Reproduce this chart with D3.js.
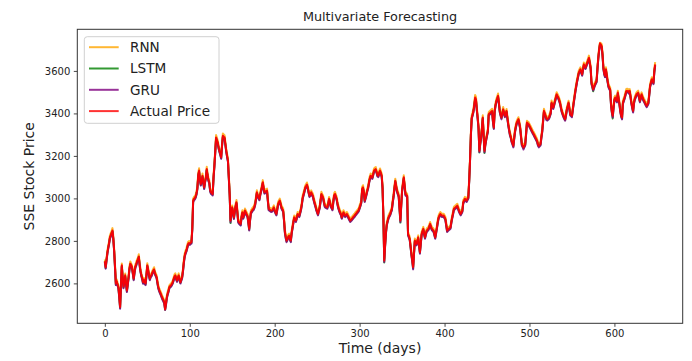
<!DOCTYPE html>
<html>
<head>
<meta charset="utf-8">
<script src="https://cdn.jsdelivr.net/npm/d3@7"></script>
<style>
  html, body { margin: 0; padding: 0; background: #fff; }
  text { font-family: "DejaVu Sans", sans-serif; fill: #222; }
</style>
</head>
<body>
<div id="chart"></div>
<script>
// SSE closing price and model predictions, one value per day (0..648)
var actualPrice = [
  2705, 2677, 2712, 2745, 2768, 2790, 2817, 2826, 2838, 2849,
  2812, 2755, 2680, 2600, 2610, 2596, 2583, 2540, 2489, 2590,
  2685, 2630, 2585, 2612, 2638, 2600, 2567, 2598, 2630, 2670,
  2693, 2686, 2677, 2650, 2623, 2655, 2680, 2690, 2705, 2712,
  2727, 2690, 2660, 2640, 2625, 2606, 2618, 2604, 2600, 2640,
  2685, 2665, 2640, 2623, 2635, 2640, 2652, 2660, 2666, 2648,
  2640, 2630, 2605, 2583, 2570, 2560, 2551, 2540, 2530, 2522,
  2512, 2478, 2505, 2535, 2553, 2566, 2583, 2588, 2591, 2598,
  2606, 2620, 2632, 2638, 2625, 2614, 2628, 2638, 2620, 2606,
  2618, 2630, 2660, 2700, 2730, 2745, 2755, 2770, 2786, 2790,
  2788, 2792, 2794, 2860, 2990, 2998, 3002, 3010, 3025, 3050,
  3110, 3131, 3090, 3068, 3085, 3107, 3075, 3052, 3080, 3099,
  3138, 3110, 3088, 3076, 3040, 3029, 3025, 3021, 3100, 3154,
  3220, 3287, 3275, 3263, 3240, 3224, 3210, 3193, 3250, 3295,
  3290, 3287, 3255, 3224, 3200, 3178, 3100, 3021, 2896, 2930,
  2958, 2935, 2911, 2940, 2965, 2982, 2940, 2896, 2888, 2884,
  2880, 2915, 2935, 2911, 2925, 2943, 2935, 2925, 2919, 2890,
  2857, 2900, 2935, 2940, 2948, 2951, 2960, 2974, 3000, 3029,
  3015, 3005, 2998, 3020, 3037, 3055, 3076, 3050, 3029, 3032,
  3035, 3037, 2990, 2951, 2948, 2945, 2943, 2944, 2950, 2958,
  2945, 2935, 2927, 2950, 2974, 2982, 2990, 2975, 2958, 2950,
  2943, 2900, 2845, 2820, 2802, 2810, 2820, 2825, 2812, 2802,
  2840, 2864, 2890, 2911, 2905, 2896, 2910, 2927, 2923, 2919,
  2935, 2951, 2975, 3005, 3020, 3035, 3052, 3058, 3065, 3050,
  3030, 3013, 3020, 3029, 3020, 3013, 2995, 2980, 2966, 2950,
  2938, 2927, 2945, 2960, 2990, 3021, 3012, 3005, 2985, 2966,
  2962, 2960, 2958, 2975, 2998, 2985, 2966, 2960, 2951, 2985,
  3015, 3021, 3010, 2998, 2975, 2958, 2945, 2935, 2927, 2911,
  2922, 2935, 2927, 2919, 2923, 2927, 2920, 2911, 2903, 2896,
  2900, 2904, 2910, 2915, 2919, 2925, 2930, 2935, 2940, 2946,
  2958, 2970, 2985, 3045, 3052, 3030, 2990, 3005, 3021, 3038,
  3052, 3075, 3095, 3107, 3102, 3099, 3115, 3131, 3135, 3138,
  3125, 3110, 3107, 3120, 3131, 3120, 3107, 3052, 2911, 2708,
  2780, 2840, 2880, 2895, 2911, 2920, 2927, 2940, 2951, 2985,
  3013, 3050, 3083, 3060, 3037, 3025, 3013, 2955, 2896, 2970,
  3037, 3070, 3099, 3060, 3021, 3017, 3013, 2833, 2822, 2810,
  2775, 2739, 2710, 2677, 2740, 2802, 2795, 2786, 2800, 2817,
  2780, 2747, 2790, 2833, 2845, 2857, 2835, 2817, 2835, 2849,
  2853, 2857, 2868, 2880, 2868, 2857, 2853, 2849, 2833, 2817,
  2840, 2864, 2890, 2911, 2920, 2927, 2923, 2919, 2919, 2919,
  2912, 2904, 2877, 2849, 2853, 2857, 2860, 2864, 2890, 2911,
  2930, 2951, 2955, 2958, 2962, 2966, 2955, 2943, 2935, 2927,
  2935, 2943, 2982, 2990, 2998, 2994, 2990, 2998, 3005, 3083,
  3180, 3300, 3381, 3395, 3412, 3440, 3475, 3467, 3420, 3380,
  3334, 3224, 3260, 3287, 3330, 3381, 3300, 3224, 3255, 3279,
  3300, 3318, 3397, 3400, 3404, 3408, 3412, 3365, 3334, 3412,
  3440, 3459, 3470, 3483, 3450, 3412, 3395, 3381, 3400, 3420,
  3405, 3389, 3400, 3412, 3380, 3350, 3325, 3303, 3290, 3271,
  3260, 3248, 3285, 3318, 3340, 3357, 3365, 3373, 3355, 3334,
  3295, 3256, 3248, 3240, 3248, 3256, 3305, 3357, 3353, 3350,
  3342, 3334, 3326, 3318, 3310, 3303, 3295, 3287, 3279, 3271,
  3255, 3248, 3252, 3256, 3290, 3318, 3365, 3412, 3400, 3389,
  3375, 3373, 3377, 3381, 3392, 3404, 3451, 3440, 3428, 3443,
  3459, 3475, 3490, 3482, 3475, 3463, 3451, 3430, 3412, 3400,
  3389, 3380, 3373, 3395, 3420, 3435, 3451, 3425, 3397, 3393,
  3389, 3420, 3451, 3478, 3506, 3530, 3553, 3572, 3592, 3600,
  3608, 3596, 3584, 3608, 3631, 3623, 3616, 3628, 3639, 3650,
  3662, 3640, 3616, 3545, 3530, 3514, 3525, 3537, 3545, 3553,
  3610, 3662, 3700, 3730, 3724, 3717, 3678, 3616, 3590, 3577,
  3608, 3580, 3553, 3530, 3520, 3514, 3444, 3410, 3389, 3430,
  3467, 3475, 3466, 3459, 3498, 3470, 3444, 3412, 3390, 3381,
  3451, 3463, 3475, 3490, 3506, 3506, 3506, 3500, 3506, 3480,
  3451, 3430, 3412, 3451, 3470, 3480, 3490, 3494, 3498, 3478,
  3459, 3475, 3490, 3478, 3467, 3460, 3451, 3443, 3436, 3443,
  3451, 3490, 3530, 3545, 3561, 3553, 3545, 3600, 3631
];

var rnnPred = [
  2713, 2686, 2719, 2754, 2777, 2797, 2826, 2836, 2847, 2860,
  2822, 2763, 2688, 2609, 2619, 2603, 2592, 2549, 2497, 2599,
  2694, 2638, 2593, 2620, 2647, 2608, 2575, 2606, 2639, 2679,
  2703, 2694, 2685, 2658, 2631, 2663, 2689, 2699, 2714, 2721,
  2737, 2699, 2668, 2648, 2633, 2614, 2626, 2612, 2608, 2649,
  2695, 2673, 2648, 2631, 2643, 2648, 2660, 2668, 2676, 2656,
  2648, 2638, 2613, 2591, 2578, 2568, 2559, 2548, 2538, 2530,
  2520, 2487, 2513, 2543, 2561, 2574, 2591, 2596, 2599, 2606,
  2614, 2628, 2641, 2647, 2633, 2622, 2636, 2647, 2628, 2614,
  2626, 2638, 2668, 2709, 2739, 2754, 2764, 2779, 2795, 2799,
  2797, 2801, 2803, 2868, 2999, 3007, 3011, 3019, 3034, 3059,
  3120, 3142, 3099, 3077, 3094, 3117, 3084, 3061, 3089, 3109,
  3149, 3119, 3097, 3085, 3049, 3038, 3034, 3030, 3109, 3164,
  3229, 3298, 3285, 3272, 3249, 3233, 3219, 3202, 3259, 3306,
  3300, 3297, 3264, 3233, 3209, 3187, 3109, 3030, 2905, 2939,
  2967, 2944, 2920, 2949, 2974, 2992, 2949, 2905, 2897, 2892,
  2888, 2924, 2944, 2920, 2934, 2952, 2944, 2934, 2928, 2899,
  2865, 2909, 2944, 2949, 2957, 2960, 2969, 2983, 3009, 3038,
  3024, 3014, 3007, 3029, 3046, 3064, 3086, 3059, 3038, 3041,
  3044, 3046, 2999, 2960, 2957, 2954, 2952, 2953, 2959, 2967,
  2954, 2944, 2936, 2959, 2983, 2991, 2999, 2984, 2967, 2959,
  2952, 2909, 2854, 2829, 2811, 2819, 2829, 2834, 2821, 2811,
  2849, 2873, 2899, 2920, 2914, 2905, 2919, 2936, 2932, 2928,
  2944, 2960, 2984, 3014, 3029, 3044, 3061, 3067, 3075, 3059,
  3039, 3022, 3029, 3038, 3029, 3022, 3004, 2989, 2975, 2959,
  2947, 2936, 2954, 2969, 2999, 3031, 3021, 3014, 2994, 2975,
  2971, 2969, 2967, 2984, 3007, 2994, 2975, 2969, 2960, 2994,
  3024, 3031, 3019, 3007, 2984, 2967, 2954, 2944, 2936, 2920,
  2931, 2944, 2936, 2928, 2932, 2936, 2929, 2920, 2912, 2905,
  2909, 2913, 2919, 2924, 2928, 2934, 2939, 2944, 2949, 2955,
  2967, 2979, 2994, 3054, 3062, 3039, 2999, 3014, 3030, 3047,
  3061, 3084, 3104, 3117, 3111, 3108, 3124, 3141, 3145, 3148,
  3134, 3119, 3116, 3129, 3141, 3129, 3116, 3061, 2920, 2717,
  2789, 2849, 2889, 2904, 2920, 2929, 2936, 2949, 2960, 2994,
  3022, 3059, 3093, 3069, 3046, 3034, 3022, 2964, 2905, 2979,
  3046, 3079, 3109, 3069, 3030, 3026, 3022, 2842, 2831, 2819,
  2784, 2748, 2719, 2686, 2749, 2811, 2804, 2795, 2809, 2826,
  2789, 2756, 2799, 2842, 2854, 2866, 2844, 2826, 2844, 2858,
  2862, 2866, 2877, 2889, 2877, 2866, 2862, 2858, 2842, 2826,
  2849, 2873, 2899, 2920, 2929, 2936, 2932, 2928, 2928, 2928,
  2921, 2913, 2886, 2858, 2862, 2866, 2869, 2873, 2899, 2920,
  2939, 2960, 2964, 2967, 2971, 2975, 2964, 2952, 2944, 2936,
  2944, 2952, 2991, 2999, 3007, 3003, 2999, 3007, 3014, 3092,
  3189, 3309, 3390, 3405, 3422, 3450, 3487, 3478, 3430, 3389,
  3343, 3233, 3269, 3296, 3339, 3391, 3309, 3233, 3264, 3288,
  3309, 3327, 3406, 3410, 3414, 3418, 3422, 3374, 3343, 3421,
  3449, 3468, 3480, 3494, 3459, 3421, 3404, 3390, 3409, 3430,
  3414, 3398, 3409, 3421, 3389, 3359, 3334, 3312, 3299, 3280,
  3269, 3257, 3294, 3327, 3349, 3366, 3374, 3382, 3364, 3343,
  3304, 3265, 3257, 3249, 3257, 3265, 3314, 3366, 3362, 3359,
  3351, 3343, 3335, 3327, 3319, 3312, 3304, 3296, 3288, 3280,
  3264, 3257, 3261, 3265, 3299, 3327, 3374, 3422, 3409, 3398,
  3384, 3382, 3386, 3390, 3401, 3413, 3461, 3449, 3437, 3452,
  3468, 3484, 3500, 3491, 3484, 3472, 3460, 3439, 3421, 3409,
  3398, 3389, 3382, 3404, 3429, 3444, 3460, 3434, 3406, 3402,
  3398, 3429, 3460, 3487, 3515, 3539, 3562, 3581, 3601, 3609,
  3617, 3605, 3593, 3617, 3640, 3632, 3625, 3637, 3648, 3659,
  3672, 3649, 3625, 3554, 3539, 3523, 3534, 3546, 3554, 3562,
  3619, 3671, 3709, 3733, 3731, 3726, 3687, 3625, 3599, 3586,
  3617, 3589, 3562, 3539, 3529, 3523, 3453, 3419, 3398, 3439,
  3476, 3484, 3475, 3468, 3507, 3479, 3453, 3421, 3399, 3390,
  3460, 3472, 3484, 3499, 3515, 3516, 3515, 3509, 3515, 3489,
  3460, 3439, 3421, 3460, 3479, 3489, 3499, 3503, 3507, 3487,
  3468, 3484, 3499, 3487, 3476, 3469, 3460, 3452, 3445, 3452,
  3460, 3499, 3539, 3554, 3570, 3562, 3554, 3610, 3641
];

var lstmPred = [
  2702, 2672, 2709, 2741, 2766, 2787, 2813, 2824, 2835, 2845,
  2809, 2751, 2675, 2594, 2607, 2592, 2578, 2535, 2484, 2586,
  2681, 2626, 2580, 2609, 2634, 2595, 2562, 2594, 2627, 2666,
  2690, 2682, 2673, 2646, 2618, 2651, 2677, 2686, 2701, 2709,
  2724, 2686, 2656, 2636, 2620, 2601, 2614, 2599, 2595, 2636,
  2682, 2661, 2636, 2618, 2631, 2636, 2648, 2656, 2663, 2644,
  2636, 2626, 2600, 2578, 2565, 2555, 2546, 2535, 2525, 2517,
  2507, 2476, 2501, 2531, 2549, 2562, 2579, 2584, 2587, 2594,
  2602, 2616, 2628, 2634, 2621, 2610, 2624, 2634, 2616, 2602,
  2614, 2626, 2656, 2696, 2726, 2741, 2751, 2766, 2782, 2786,
  2784, 2788, 2790, 2855, 2985, 2994, 2998, 3006, 3021, 3046,
  3106, 3127, 3085, 3063, 3081, 3103, 3070, 3047, 3076, 3095,
  3134, 3106, 3084, 3072, 3035, 3024, 3021, 3017, 3096, 3150,
  3216, 3283, 3271, 3259, 3236, 3220, 3206, 3189, 3246, 3291,
  3286, 3283, 3251, 3220, 3196, 3174, 3095, 3016, 2884, 2925,
  2954, 2931, 2906, 2936, 2961, 2978, 2936, 2890, 2883, 2879,
  2875, 2911, 2931, 2907, 2921, 2939, 2931, 2921, 2915, 2885,
  2852, 2896, 2931, 2936, 2944, 2947, 2956, 2970, 2996, 3025,
  3011, 3001, 2994, 3016, 3033, 3051, 3072, 3046, 3025, 3028,
  3031, 3033, 2986, 2947, 2944, 2941, 2939, 2940, 2946, 2954,
  2941, 2931, 2923, 2946, 2970, 2978, 2986, 2971, 2954, 2946,
  2939, 2896, 2840, 2815, 2797, 2806, 2816, 2821, 2807, 2797,
  2836, 2860, 2886, 2907, 2901, 2892, 2906, 2923, 2919, 2915,
  2931, 2947, 2971, 3001, 3016, 3031, 3048, 3054, 3061, 3046,
  3026, 3009, 3016, 3025, 3016, 3009, 2991, 2976, 2962, 2946,
  2934, 2923, 2941, 2956, 2986, 3017, 3008, 3001, 2981, 2962,
  2958, 2956, 2954, 2971, 2994, 2981, 2962, 2956, 2947, 2981,
  3011, 3017, 3006, 2994, 2971, 2954, 2941, 2931, 2923, 2907,
  2918, 2931, 2923, 2915, 2919, 2923, 2916, 2907, 2899, 2892,
  2896, 2900, 2906, 2911, 2915, 2921, 2926, 2931, 2936, 2942,
  2954, 2966, 2981, 3041, 3048, 3026, 2986, 3001, 3017, 3034,
  3048, 3071, 3091, 3103, 3098, 3095, 3111, 3127, 3131, 3134,
  3121, 3106, 3103, 3116, 3127, 3116, 3103, 3048, 2905, 2698,
  2776, 2836, 2876, 2891, 2907, 2916, 2923, 2936, 2947, 2981,
  3009, 3046, 3079, 3056, 3033, 3021, 3009, 2951, 2886, 2966,
  3033, 3066, 3095, 3056, 3017, 3013, 3009, 2829, 2818, 2806,
  2771, 2735, 2705, 2670, 2736, 2798, 2791, 2782, 2796, 2813,
  2776, 2743, 2786, 2829, 2841, 2853, 2831, 2813, 2831, 2845,
  2849, 2853, 2864, 2876, 2864, 2853, 2849, 2845, 2829, 2813,
  2836, 2860, 2886, 2907, 2916, 2923, 2919, 2915, 2915, 2915,
  2908, 2900, 2873, 2845, 2849, 2853, 2856, 2860, 2886, 2907,
  2926, 2947, 2951, 2954, 2958, 2962, 2951, 2939, 2931, 2923,
  2931, 2939, 2978, 2986, 2994, 2990, 2986, 2994, 3001, 3079,
  3176, 3296, 3377, 3391, 3408, 3436, 3468, 3463, 3416, 3376,
  3330, 3216, 3256, 3283, 3326, 3377, 3296, 3214, 3251, 3275,
  3296, 3314, 3393, 3396, 3400, 3404, 3408, 3361, 3330, 3408,
  3436, 3455, 3466, 3479, 3446, 3408, 3391, 3377, 3396, 3416,
  3401, 3385, 3396, 3408, 3376, 3346, 3321, 3299, 3286, 3267,
  3256, 3244, 3281, 3314, 3336, 3353, 3361, 3369, 3351, 3330,
  3291, 3252, 3244, 3236, 3244, 3252, 3301, 3353, 3349, 3346,
  3338, 3330, 3322, 3314, 3306, 3299, 3291, 3283, 3275, 3267,
  3251, 3244, 3248, 3252, 3286, 3314, 3361, 3408, 3396, 3385,
  3371, 3369, 3373, 3377, 3388, 3400, 3447, 3436, 3424, 3439,
  3455, 3471, 3486, 3478, 3471, 3459, 3447, 3426, 3408, 3396,
  3385, 3376, 3369, 3391, 3416, 3431, 3447, 3421, 3393, 3389,
  3385, 3416, 3447, 3474, 3502, 3526, 3549, 3568, 3588, 3596,
  3604, 3592, 3580, 3604, 3627, 3619, 3612, 3624, 3635, 3646,
  3658, 3636, 3612, 3538, 3522, 3504, 3521, 3533, 3541, 3549,
  3606, 3658, 3696, 3726, 3720, 3713, 3674, 3612, 3586, 3571,
  3604, 3576, 3549, 3526, 3516, 3510, 3440, 3403, 3376, 3426,
  3463, 3471, 3462, 3455, 3494, 3466, 3440, 3408, 3386, 3375,
  3447, 3459, 3471, 3486, 3502, 3502, 3502, 3496, 3502, 3476,
  3447, 3426, 3408, 3447, 3466, 3476, 3486, 3490, 3494, 3474,
  3455, 3471, 3486, 3474, 3463, 3456, 3447, 3439, 3432, 3439,
  3447, 3486, 3526, 3541, 3557, 3549, 3541, 3596, 3627
];

var gruPred = [
  2699, 2669, 2705, 2738, 2762, 2783, 2810, 2819, 2831, 2842,
  2806, 2748, 2672, 2592, 2603, 2589, 2575, 2532, 2481, 2583,
  2678, 2623, 2577, 2605, 2631, 2592, 2559, 2591, 2623, 2663,
  2686, 2679, 2670, 2643, 2615, 2648, 2673, 2683, 2698, 2705,
  2720, 2683, 2653, 2633, 2617, 2598, 2611, 2596, 2592, 2633,
  2678, 2658, 2633, 2615, 2628, 2633, 2645, 2653, 2659, 2641,
  2633, 2623, 2597, 2575, 2562, 2552, 2543, 2532, 2522, 2514,
  2504, 2475, 2497, 2528, 2546, 2559, 2576, 2581, 2584, 2591,
  2599, 2613, 2625, 2631, 2618, 2607, 2621, 2631, 2613, 2599,
  2611, 2623, 2653, 2692, 2722, 2738, 2748, 2763, 2779, 2783,
  2781, 2785, 2787, 2852, 2982, 2991, 2995, 3003, 3018, 3043,
  3103, 3124, 3082, 3060, 3078, 3100, 3067, 3044, 3073, 3092,
  3131, 3103, 3081, 3069, 3032, 3021, 3018, 3014, 3093, 3147,
  3213, 3280, 3268, 3256, 3233, 3217, 3203, 3186, 3243, 3288,
  3283, 3280, 3248, 3217, 3193, 3171, 3092, 3013, 2888, 2922,
  2951, 2928, 2903, 2933, 2958, 2975, 2933, 2887, 2880, 2876,
  2872, 2908, 2928, 2904, 2918, 2936, 2928, 2918, 2912, 2882,
  2849, 2893, 2928, 2933, 2941, 2944, 2953, 2967, 2993, 3022,
  3008, 2998, 2991, 3013, 3030, 3048, 3069, 3043, 3022, 3025,
  3028, 3030, 2983, 2944, 2941, 2938, 2936, 2937, 2943, 2951,
  2938, 2928, 2920, 2943, 2967, 2975, 2983, 2968, 2951, 2943,
  2936, 2893, 2837, 2812, 2794, 2803, 2813, 2818, 2804, 2794,
  2833, 2857, 2883, 2904, 2898, 2889, 2903, 2920, 2916, 2912,
  2928, 2944, 2968, 2998, 3013, 3028, 3045, 3051, 3058, 3043,
  3023, 3006, 3013, 3022, 3013, 3006, 2988, 2973, 2959, 2943,
  2931, 2920, 2938, 2953, 2983, 3014, 3005, 2998, 2978, 2959,
  2955, 2953, 2951, 2968, 2991, 2978, 2959, 2953, 2944, 2978,
  3008, 3014, 3003, 2991, 2968, 2951, 2938, 2928, 2920, 2904,
  2915, 2928, 2920, 2912, 2916, 2920, 2913, 2904, 2896, 2889,
  2893, 2897, 2903, 2908, 2912, 2918, 2923, 2928, 2933, 2939,
  2951, 2963, 2978, 3038, 3045, 3023, 2983, 2998, 3014, 3031,
  3045, 3068, 3088, 3100, 3095, 3092, 3108, 3124, 3128, 3131,
  3118, 3103, 3100, 3113, 3124, 3113, 3100, 3045, 2904, 2701,
  2773, 2833, 2873, 2888, 2904, 2913, 2920, 2933, 2944, 2978,
  3006, 3043, 3076, 3053, 3030, 3018, 3006, 2948, 2889, 2963,
  3030, 3063, 3092, 3053, 3014, 3010, 3006, 2826, 2815, 2803,
  2768, 2732, 2701, 2666, 2733, 2795, 2788, 2779, 2793, 2810,
  2773, 2740, 2783, 2826, 2838, 2850, 2828, 2810, 2828, 2842,
  2846, 2850, 2861, 2873, 2861, 2850, 2846, 2842, 2826, 2810,
  2833, 2857, 2883, 2904, 2913, 2920, 2916, 2912, 2912, 2912,
  2905, 2897, 2870, 2842, 2846, 2850, 2853, 2857, 2883, 2904,
  2923, 2944, 2948, 2951, 2955, 2959, 2948, 2936, 2928, 2920,
  2928, 2936, 2975, 2983, 2991, 2987, 2983, 2991, 2998, 3076,
  3173, 3293, 3374, 3388, 3405, 3433, 3465, 3460, 3413, 3373,
  3327, 3218, 3253, 3280, 3323, 3374, 3293, 3217, 3248, 3272,
  3293, 3311, 3390, 3393, 3397, 3401, 3405, 3358, 3327, 3405,
  3433, 3452, 3463, 3476, 3443, 3405, 3388, 3372, 3393, 3413,
  3398, 3382, 3393, 3405, 3373, 3343, 3318, 3296, 3283, 3264,
  3253, 3240, 3278, 3311, 3333, 3350, 3358, 3366, 3348, 3327,
  3288, 3249, 3240, 3230, 3241, 3249, 3298, 3350, 3346, 3343,
  3335, 3327, 3319, 3311, 3303, 3296, 3288, 3280, 3272, 3264,
  3248, 3240, 3245, 3249, 3283, 3311, 3358, 3405, 3393, 3382,
  3368, 3366, 3370, 3374, 3385, 3397, 3444, 3433, 3421, 3436,
  3452, 3468, 3483, 3475, 3468, 3456, 3444, 3423, 3405, 3393,
  3382, 3373, 3366, 3388, 3413, 3428, 3444, 3418, 3390, 3386,
  3382, 3413, 3444, 3471, 3499, 3523, 3546, 3565, 3585, 3593,
  3601, 3589, 3577, 3601, 3624, 3616, 3609, 3621, 3632, 3643,
  3655, 3633, 3609, 3540, 3525, 3508, 3518, 3530, 3538, 3546,
  3603, 3655, 3693, 3723, 3717, 3710, 3671, 3609, 3583, 3570,
  3601, 3573, 3546, 3523, 3513, 3507, 3437, 3405, 3381, 3423,
  3460, 3468, 3459, 3452, 3491, 3463, 3437, 3405, 3383, 3372,
  3444, 3456, 3468, 3483, 3499, 3499, 3499, 3493, 3499, 3473,
  3444, 3423, 3404, 3444, 3463, 3473, 3483, 3487, 3491, 3471,
  3452, 3468, 3483, 3471, 3460, 3453, 3444, 3436, 3429, 3436,
  3444, 3483, 3523, 3538, 3554, 3546, 3538, 3593, 3624
];

var seriesNames = ["RNN", "LSTM", "GRU", "Actual Price"];
var seriesColors = ["orange", "green", "purple", "red"];
var seriesAlpha = [0.8, 0.8, 0.8, 0.92];
var xTicks = [0, 100, 200, 300, 400, 500, 600];
var yTicks = [2600, 2800, 3000, 3200, 3400, 3600];

var W = 692, H = 361;
var plot = { left: 77.3, right: 682.7, top: 29.3, bottom: 323.3 };

var allSeries = [rnnPred, lstmPred, gruPred, actualPrice];

var svg = d3.select("#chart").append("svg")
  .attr("width", W)
  .attr("height", H);

// matplotlib-like 5% margins on both axes
var n = actualPrice.length;
var xPad = (n - 1) * 0.05;
var x = d3.scaleLinear()
  .domain([-xPad, n - 1 + xPad])
  .range([plot.left, plot.right]);

var yMin = d3.min(allSeries, function (s) { return d3.min(s); });
var yMax = d3.max(allSeries, function (s) { return d3.max(s); });
var yPad = (yMax - yMin) * 0.05;
var y = d3.scaleLinear()
  .domain([yMin - yPad, yMax + yPad])
  .range([plot.bottom, plot.top]);

svg.append("clipPath").attr("id", "clip")
  .append("rect")
  .attr("x", plot.left).attr("y", plot.top)
  .attr("width", plot.right - plot.left)
  .attr("height", plot.bottom - plot.top);

var line = d3.line()
  .x(function (d, i) { return x(i); })
  .y(function (d) { return y(d); });

svg.append("g").attr("clip-path", "url(#clip)")
  .selectAll("path")
  .data(allSeries)
  .enter().append("path")
  .attr("d", line)
  .attr("fill", "none")
  .attr("stroke", function (d, i) { return seriesColors[i]; })
  .attr("stroke-opacity", function (d, i) { return seriesAlpha[i]; })
  .attr("stroke-width", 2)
  .attr("stroke-linejoin", "round");

// axes
var xAxis = svg.append("g")
  .attr("transform", "translate(0," + plot.bottom + ")")
  .call(d3.axisBottom(x).tickValues(xTicks).tickSize(3.5).tickPadding(3.5).tickFormat(d3.format("d")));
var yAxis = svg.append("g")
  .attr("transform", "translate(" + plot.left + ",0)")
  .call(d3.axisLeft(y).tickValues(yTicks).tickSize(3.5).tickPadding(3.5).tickFormat(d3.format("d")));

[xAxis, yAxis].forEach(function (ax) {
  ax.select(".domain").remove();
  ax.selectAll(".tick line").attr("stroke", "#333").attr("stroke-width", 0.9);
  ax.selectAll(".tick text")
    .style("font-family", "'DejaVu Sans', sans-serif")
    .style("font-size", "10px")
    .attr("fill", "#222");
});

// frame
svg.append("rect")
  .attr("x", plot.left).attr("y", plot.top)
  .attr("width", plot.right - plot.left)
  .attr("height", plot.bottom - plot.top)
  .attr("fill", "none")
  .attr("stroke", "#333")
  .attr("stroke-width", 1);

// title + axis labels
svg.append("text")
  .attr("x", (plot.left + plot.right) / 2)
  .attr("y", 20.5)
  .attr("text-anchor", "middle")
  .style("font-size", "12.8px")
  .text("Multivariate Forecasting");

svg.append("text")
  .attr("x", (plot.left + plot.right) / 2)
  .attr("y", 352.5)
  .attr("text-anchor", "middle")
  .style("font-size", "14px")
  .text("Time (days)");

svg.append("text")
  .attr("transform", "translate(33.5," + ((plot.top + plot.bottom) / 2) + ") rotate(-90)")
  .attr("text-anchor", "middle")
  .style("font-size", "14px")
  .text("SSE Stock Price");

// legend
var legend = svg.append("g").attr("transform", "translate(84.3,36.7)");
legend.append("rect")
  .attr("width", 134.7)
  .attr("height", 86.6)
  .attr("rx", 3)
  .attr("fill", "white")
  .attr("fill-opacity", 0.8)
  .attr("stroke", "#d0d0d0")
  .attr("stroke-width", 1);

var items = legend.selectAll("g.item")
  .data(seriesNames)
  .enter().append("g")
  .attr("class", "item")
  .attr("transform", function (d, i) { return "translate(0," + (10.5 + i * 21.3) + ")"; });
items.append("line")
  .attr("x1", 4.7).attr("x2", 34.4)
  .attr("stroke", function (d, i) { return seriesColors[i]; })
  .attr("stroke-opacity", 0.8)
  .attr("stroke-width", 2);
items.append("text")
  .attr("x", 45.7)
  .attr("dy", "0.36em")
  .style("font-size", "13.6px")
  .text(function (d) { return d; });
</script>
</body>
</html>
